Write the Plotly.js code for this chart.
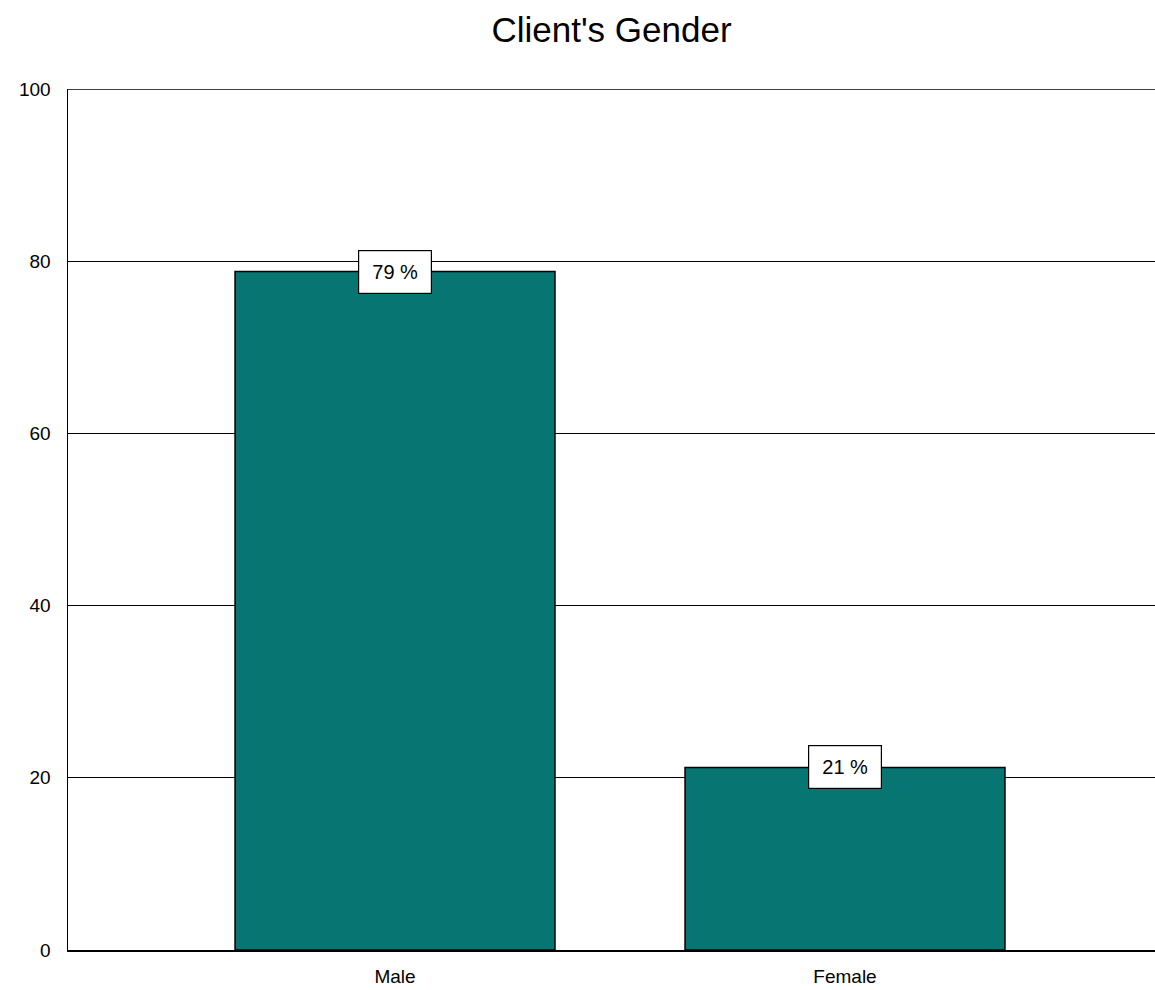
<!DOCTYPE html>
<html>
<head>
<meta charset="utf-8">
<script src="https://cdn.plot.ly/plotly-3.0.1.min.js"></script>
<style>html,body{margin:0;padding:0;background:#fff;}#chart{width:1155px;height:990px;}</style>
</head>
<body>
<div id="chart"></div>
<script>
const categories = ["Male", "Female"];
const values = [78.8, 21.2];
const labels = ["79 %", "21 %"];
const yTicks = [0, 20, 40, 60, 80, 100];

const font = "Arial, 'Liberation Sans', sans-serif";

const trace = {
  type: "bar",
  x: [0, 1],
  y: values,
  width: 0.711,
  marker: { color: "#077673", line: { color: "#000", width: 1.5 } },
  hoverinfo: "skip"
};

const annotations = values.map((v, i) => ({
  x: i, y: v, xref: "x", yref: "y",
  text: labels[i], showarrow: false,
  bgcolor: "#fff", bordercolor: "#000", borderwidth: 1.2,
  width: 72, height: 42, borderpad: 0,
  font: { family: font, size: 20, color: "#000" },
  xanchor: "center", yanchor: "middle"
}));

const layout = {
  width: 1155, height: 990,
  margin: { l: 68, r: 0, t: 89, b: 40 },
  paper_bgcolor: "#fff", plot_bgcolor: "#fff",
  showlegend: false,
  title: { text: "Client's Gender", font: { family: font, size: 35, color: "#000" }, x: 0.5, xref: "paper", y: 0.97, yref: "container", yanchor: "middle" },
  xaxis: {
    range: [-0.7267, 1.6889],
    tickvals: [0, 1], ticktext: categories,
    showgrid: false, zeroline: false,
    showline: true, linecolor: "#000", linewidth: 1.5,
    ticks: "outside", ticklen: 9, tickcolor: "rgba(0,0,0,0)",
    tickfont: { family: font, size: 19, color: "#000" }
  },
  yaxis: {
    range: [0, 100], tickvals: yTicks,
    showgrid: true, gridcolor: "#000", gridwidth: 1.2,
    zeroline: false,
    showline: true, linecolor: "#000", linewidth: 1.5,
    ticks: "outside", ticklen: 12, tickcolor: "rgba(0,0,0,0)",
    tickfont: { family: font, size: 19, color: "#000" }
  },
  shapes: [{
    type: "line", xref: "paper", yref: "y", x0: 0, x1: 1, y0: yTicks[yTicks.length - 1], y1: yTicks[yTicks.length - 1],
    line: { color: "#000", width: 1.5 }
  }],
  annotations: annotations
};

Plotly.newPlot("chart", [trace], layout, { displayModeBar: false, staticPlot: true });
</script>
</body>
</html>
